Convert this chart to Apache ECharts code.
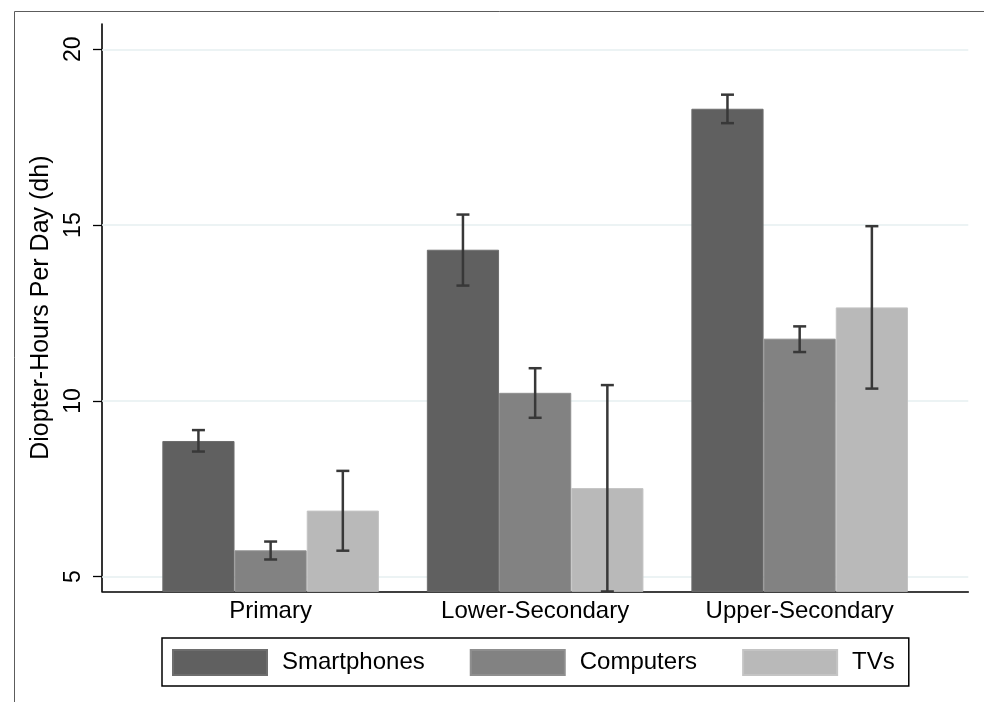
<!DOCTYPE html>
<html>
<head>
<meta charset="utf-8">
<title>Diopter-Hours Per Day by School Level</title>
<script src="https://cdn.jsdelivr.net/npm/echarts@6/dist/echarts.min.js"></script>
<style>
  html, body { margin: 0; padding: 0; background: #fff; }
  #chart { width: 984px; height: 702px; }
</style>
</head>
<body>
<div id="chart"></div>
<script>
// School levels (placed at x = 1, 2, 3)
const categories = ['Primary', 'Lower-Secondary', 'Upper-Secondary'];
const seriesNames = ['Smartphones', 'Computers', 'TVs'];

// Mean diopter-hours per day
const smartphones = [8.86, 14.30, 18.31];
const computers = [5.75, 10.23, 11.77];
const tvs = [6.88, 7.52, 12.66];

// Confidence interval bounds
const smartphonesLow = [8.56, 13.28, 17.90];
const smartphonesHigh = [9.17, 15.30, 18.71];
const computersLow = [5.49, 9.52, 11.39];
const computersHigh = [6.00, 10.93, 12.12];
const tvsLow = [5.74, 4.58, 10.35];
const tvsHigh = [8.01, 10.45, 14.97];

// Y axis tick values
const yTicks = [5, 10, 15, 20];

const means = [smartphones, computers, tvs];
const lows = [smartphonesLow, computersLow, tvsLow];
const highs = [smartphonesHigh, computersHigh, tvsHigh];
const colors = ['#606060', '#828282', '#b9b9b9'];
const borders = ['#6e6e6e', '#8f8f8f', '#c4c4c4'];

const FONT = 'Liberation Sans, Arial, sans-serif';
const BAR_W = 72.2;

const chart = echarts.init(document.getElementById('chart'), null, { renderer: 'canvas' });

const barSeries = means.map((vals, i) => ({
  name: seriesNames[i],
  type: 'bar',
  barWidth: BAR_W,
  barGap: '0%',
  z: 3,
  itemStyle: { color: colors[i], borderColor: borders[i], borderWidth: 1 },
  data: vals.map((v, k) => [k + 1, v])
}));

// Error bars, drawn on top of each bar's centre
const errorSeries = means.map((vals, i) => ({
  name: seriesNames[i] + ' CI',
  type: 'custom',
  z: 5,
  silent: true,
  renderItem: function (params, api) {
    const x = api.value(0);
    const lo = api.coord([x, api.value(1)]);
    const hi = api.coord([x, api.value(2)]);
    const cx = lo[0] + (i - 1) * BAR_W;
    const cap = 6.5;
    const style = { stroke: '#383838', lineWidth: 2.5 };
    return {
      type: 'group',
      children: [
        { type: 'line', shape: { x1: cx, y1: hi[1], x2: cx, y2: lo[1] }, style: style },
        { type: 'line', shape: { x1: cx - cap, y1: hi[1], x2: cx + cap, y2: hi[1] }, style: style },
        { type: 'line', shape: { x1: cx - cap, y1: lo[1], x2: cx + cap, y2: lo[1] }, style: style }
      ]
    };
  },
  data: vals.map((v, k) => [k + 1, lows[i][k], highs[i][k]])
}));

// Horizontal reference lines at the tick values, kept behind the bars
const gridSeries = {
  name: 'grid',
  type: 'line',
  data: [],
  silent: true,
  z: 1,
  markLine: {
    silent: true,
    symbol: ['none', 'none'],
    z: 1,
    label: { show: false },
    lineStyle: { color: '#e6eff1', width: 1.6, type: 'solid' },
    data: yTicks.map(t => ({ yAxis: t }))
  }
};

const option = {
  animation: false,
  backgroundColor: '#ffffff',
  textStyle: { fontFamily: FONT },
  graphic: [{
    type: 'rect',
    shape: { x: 14.5, y: 11.5, width: 1200, height: 1200 },
    style: { fill: 'none', stroke: '#5c5c5c', lineWidth: 1 },
    silent: true
  }],
  grid: { left: 102, top: 24, right: 15.7, bottom: 110.7, containLabel: false },
  xAxis: {
    type: 'value',
    min: 0.3625,
    max: 3.6375,
    axisLine: { show: true, onZero: false, lineStyle: { color: '#000', width: 1.6 } },
    axisTick: { show: false },
    splitLine: { show: false },
    axisLabel: {
      customValues: [1, 2, 3],
      formatter: v => categories[Math.round(v) - 1] || '',
      color: '#000',
      fontSize: 24,
      fontFamily: FONT,
      margin: 8
    }
  },
  yAxis: {
    type: 'value',
    min: 4.585,
    max: 20.72,
    name: 'Diopter-Hours Per Day (dh)',
    nameLocation: 'middle',
    nameGap: 45,
    nameTextStyle: { color: '#000', fontSize: 25, fontFamily: FONT },
    axisLine: { show: true, onZero: false, lineStyle: { color: '#000', width: 1.6 } },
    axisTick: { show: true, customValues: yTicks, length: 9, lineStyle: { color: '#000', width: 1.3 } },
    splitLine: { show: false },
    axisLabel: {
      customValues: yTicks,
      rotate: 90,
      color: '#000',
      fontSize: 23,
      fontFamily: FONT,
      margin: 17
    }
  },
  legend: {
    data: seriesNames,
    left: 162,
    top: 638,
    orient: 'horizontal',
    itemWidth: 94,
    itemHeight: 25,
    itemGap: 45,
    padding: [11, 14, 10, 10],
    borderColor: '#000',
    borderWidth: 1.5,
    borderRadius: 0,
    icon: 'rect',
    selectedMode: false,
    textStyle: { color: '#000', fontSize: 24, fontFamily: FONT, padding: [0, 0, 0, 10] }
  },
  series: [gridSeries].concat(barSeries, errorSeries)
};

chart.setOption(option);
</script>
</body>
</html>
